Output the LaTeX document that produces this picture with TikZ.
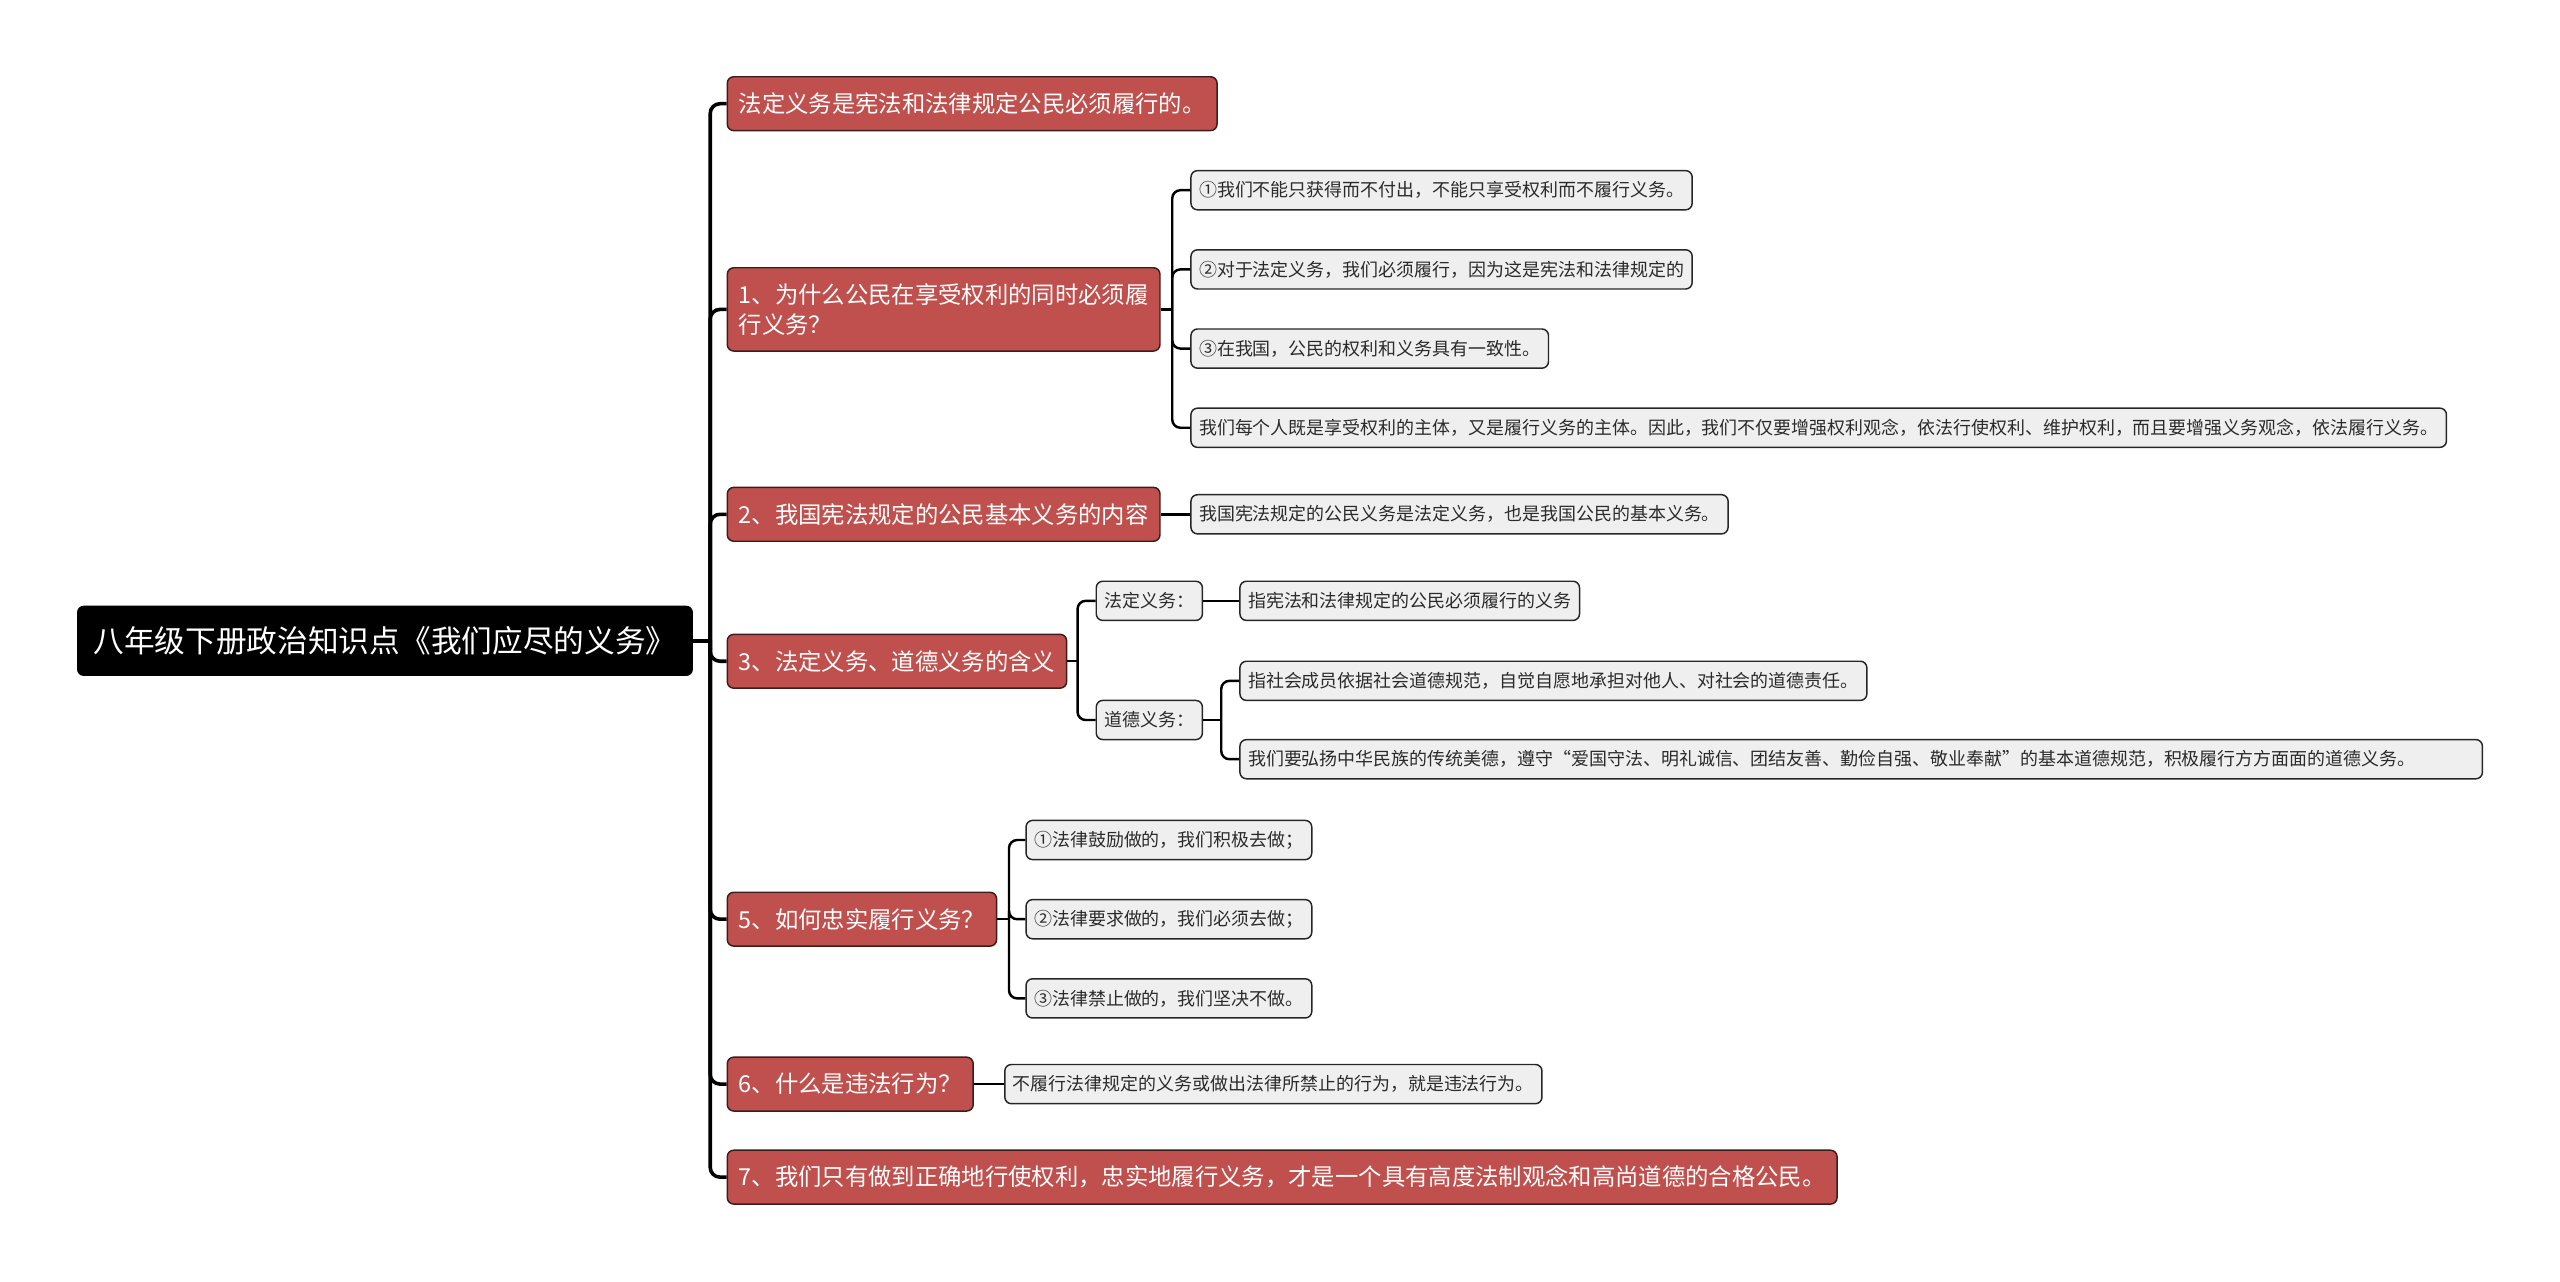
\documentclass[tikz,border=0pt]{standalone}
\usepackage{fontspec}
\setmainfont{Noto Sans CJK SC}
\usepackage{xcolor}
\definecolor{topicred}{HTML}{C0504D}
\definecolor{topicedge}{HTML}{3D1C1C}
\definecolor{leafgray}{HTML}{EFEFEF}
\definecolor{leafedge}{HTML}{262626}
\definecolor{leaftext}{HTML}{2B2B2B}

\begin{document}
\begin{tikzpicture}[
  x=1pt, y=-1pt,
  root/.style  = {rectangle, rounded corners=4pt, fill=black, text=white,
                  font=\fontsize{18.8}{22}\selectfont, inner xsep=10pt,
                  minimum height=43pt, anchor=west},
  topic/.style = {rectangle, rounded corners=4pt, fill=topicred,
                  draw=topicedge, line width=0.9pt, text=white,
                  font=\fontsize{14.3}{18.5}\selectfont, inner xsep=7pt,
                  minimum height=33pt, anchor=west},
  leaf/.style  = {rectangle, rounded corners=4pt, fill=leafgray,
                  draw=leafedge, line width=0.9pt, text=leaftext,
                  font=\fontsize{11}{13}\selectfont, inner xsep=5pt,
                  minimum height=24pt, anchor=west},
  trunk/.style = {draw=black, line width=2.2pt, rounded corners=6pt},
  conn/.style  = {draw=black, line width=1.5pt, rounded corners=5pt}
]
\useasboundingbox (0,0) rectangle (1568,785);

% ===================== ROOT =====================
\node[root] (root) at (47,392.5) {八年级下册政治知识点《我们应尽的义务》};

% ===================== LEVEL 1 =====================
\node[topic] (duty) at (445,63.5) {法定义务是宪法和法律规定公民必须履行的。};
\node[topic, align=left, minimum height=51pt]
  (why) at (445,189.5) {1、为什么公民在享受权利的同时必须履\\行义务？};
\node[topic] (basic) at (445,315) {2、我国宪法规定的公民基本义务的内容};
\node[topic] (meaning) at (445,405) {3、法定义务、道德义务的含义};
\node[topic] (how) at (445,563) {5、如何忠实履行义务？};
\node[topic] (illegal) at (445,664) {6、什么是违法行为？};
\node[topic] (citizen) at (445,721)
  {7、我们只有做到正确地行使权利，忠实地履行义务，才是一个具有高度法制观念和高尚道德的合格公民。};

% why: four reasons
\node[leaf] (why1) at (729,116.5) {①我们不能只获得而不付出，不能只享受权利而不履行义务。};
\node[leaf] (why2) at (729,165) {②对于法定义务，我们必须履行，因为这是宪法和法律规定的};
\node[leaf] (why3) at (729,213.5) {③在我国，公民的权利和义务具有一致性。};
\node[leaf] (why4) at (729,262)
  {我们每个人既是享受权利的主体，又是履行义务的主体。因此，我们不仅要增强权利观念，依法行使权利、维护权利，而且要增强义务观念，依法履行义务。};

% basic duties
\node[leaf] (basic1) at (729,315) {我国宪法规定的公民义务是法定义务，也是我国公民的基本义务。};

% meaning: legal / moral
\node[leaf] (legal) at (671,368) {法定义务：};
\node[leaf] (moral) at (671,441) {道德义务：};
\node[leaf] (legal1) at (759,368) {指宪法和法律规定的公民必须履行的义务};
\node[leaf] (moral1) at (759,417)
  {指社会成员依据社会道德规范，自觉自愿地承担对他人、对社会的道德责任。};
\node[leaf, text width=751pt, align=left] (moral2) at (759,465)
  {我们要弘扬中华民族的传统美德，遵守\makebox[11pt][r]{“}爱国守法、明礼诚信、团结友善、勤俭自强、敬业奉献\makebox[11pt][l]{”}的基本道德规范，积极履行方方面面的道德义务。};

% how
\node[leaf] (how1) at (628,514.5) {①法律鼓励做的，我们积极去做；};
\node[leaf] (how2) at (628,563) {②法律要求做的，我们必须去做；};
\node[leaf] (how3) at (628,611.5) {③法律禁止做的，我们坚决不做。};

% illegal
\node[leaf] (illegal1) at (615,664) {不履行法律规定的义务或做出法律所禁止的行为，就是违法行为。};

% ===================== CONNECTORS =====================
\coordinate (tj) at (435,392.5);
\coordinate (whyj) at (718,189.5);
\coordinate (meanj) at (660,405);
\coordinate (moralj) at (748,441);
\coordinate (howj) at (618,563);

\draw[trunk] (root.east) -- (tj);
\foreach \t in {duty,why,basic,meaning,how,illegal,citizen}
  \draw[trunk] (tj) |- (\t.west);

\draw[conn] (why.east) -- (whyj);
\foreach \c in {why1,why2,why3,why4}
  \draw[conn] (whyj) |- (\c.west);

\draw[conn] (basic.east) -- (basic1.west);

\draw[conn] (meaning.east) -- (meanj);
\foreach \c in {legal,moral}
  \draw[conn] (meanj) |- (\c.west);
\draw[conn] (legal.east) -- (legal1.west);
\draw[conn] (moral.east) -- (moralj);
\foreach \c in {moral1,moral2}
  \draw[conn] (moralj) |- (\c.west);

\draw[conn] (how.east) -- (howj);
\foreach \c in {how1,how2,how3}
  \draw[conn] (howj) |- (\c.west);

\draw[conn] (illegal.east) -- (illegal1.west);

\end{tikzpicture}
\end{document}
